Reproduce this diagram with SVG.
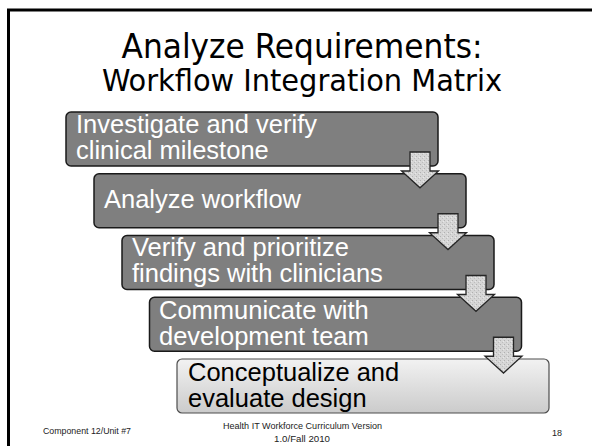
<svg xmlns="http://www.w3.org/2000/svg" width="592" height="446" viewBox="0 0 592 446">
<style>
.frame{stroke:#000;stroke-width:3;fill:none}
.box{fill:#7f7f7f;stroke:#1a1a1a;stroke-width:1.5}
.boxl{fill:url(#lg);stroke:#4d4d4d;stroke-width:1.2}
.bt{font-family:"Liberation Sans",Arial,sans-serif;fill:#fff;font-size:25.5px}
.btd{font-family:"Liberation Sans",Arial,sans-serif;fill:#000;font-size:25.5px}
.title{font-family:"DejaVu Sans Condensed","DejaVu Sans",sans-serif;fill:#000;text-anchor:middle}
.foot{font-family:"Liberation Sans",Arial,sans-serif;font-size:9px;fill:#222}
.arr{fill:url(#dots);stroke:#262626;stroke-width:1.3;stroke-linejoin:miter}
</style>
<defs>
<linearGradient id="lg" x1="0" y1="0" x2="0" y2="1">
<stop offset="0" stop-color="#f2f2f2"/>
<stop offset="1" stop-color="#cbcbcb"/>
</linearGradient>
<pattern id="dots" width="4" height="4" patternUnits="userSpaceOnUse">
<rect width="4" height="4" fill="#d6d6d6"/>
<rect x="0" y="0" width="1" height="1" fill="#b0b0b0"/>
<rect x="2" y="2" width="1" height="1" fill="#bdbdbd"/>
<rect x="3" y="1" width="1" height="1" fill="#e8e8e8"/>
</pattern>
</defs>
<rect width="592" height="446" fill="#fff"/>
<path class="frame" d="M8.5,446 V10 H592"/>
<text class="title" x="302" y="58" font-size="33" textLength="361" lengthAdjust="spacingAndGlyphs">Analyze Requirements:</text>
<text class="title" x="302" y="91" font-size="30" textLength="400" lengthAdjust="spacingAndGlyphs">Workflow Integration Matrix</text>
<g id="n1">
<rect class="box" x="66" y="112" width="372" height="54" rx="5"/>
<text class="bt" x="76" y="133">Investigate and verify</text>
<text class="bt" x="76" y="159">clinical milestone</text>
</g>
<g id="n2">
<rect class="box" x="94" y="173.75" width="372" height="54" rx="5"/>
<text class="bt" x="104" y="208">Analyze workflow</text>
</g>
<g id="n3">
<rect class="box" x="122" y="235.5" width="372" height="54" rx="5"/>
<text class="bt" x="132" y="256">Verify and prioritize</text>
<text class="bt" x="132" y="282">findings with clinicians</text>
</g>
<g id="n4">
<rect class="box" x="149.5" y="297.25" width="372" height="54" rx="5"/>
<text class="bt" x="159" y="319">Communicate with</text>
<text class="bt" x="159" y="345">development team</text>
</g>
<g id="n5">
<rect class="boxl" x="177" y="359" width="372" height="54" rx="5"/>
<text class="btd" x="188" y="381">Conceptualize and</text>
<text class="btd" x="188" y="407">evaluate design</text>
</g>
<g id="connectors">
<path class="arr" d="M410,152 H430 V171 H438.5 L420,187.75 L401.5,171 H410 Z"/>
<path class="arr" d="M438,213.75 H458 V232.75 H466.5 L448,249.5 L429.5,232.75 H438 Z"/>
<path class="arr" d="M466,275.5 H486 V294.5 H494.5 L476,311.25 L457.5,294.5 H466 Z"/>
<path class="arr" d="M493.5,337.25 H513.5 V356.25 H522 L503.5,373 L485,356.25 H493.5 Z"/>
</g>
<g id="footer">
<text class="foot" x="43" y="434" textLength="88" lengthAdjust="spacingAndGlyphs">Component 12/Unit #7</text>
<text class="foot" x="302.5" y="429" text-anchor="middle" textLength="159" lengthAdjust="spacingAndGlyphs">Health IT Workforce Curriculum Version</text>
<text class="foot" x="302" y="442" text-anchor="middle" textLength="56" lengthAdjust="spacingAndGlyphs">1.0/Fall 2010</text>
<text class="foot" x="552" y="436" textLength="10" lengthAdjust="spacingAndGlyphs">18</text>
</g>
</svg>
